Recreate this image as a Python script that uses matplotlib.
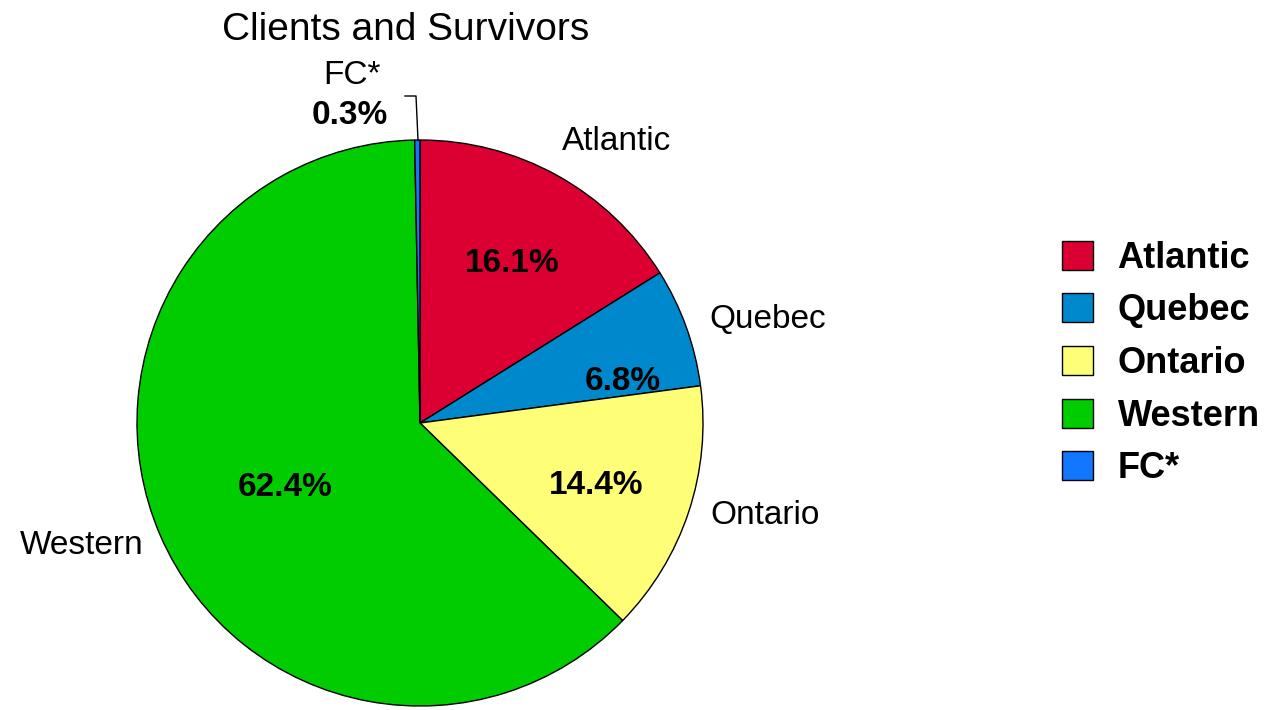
import matplotlib.pyplot as plt

# Data
regions = ["Atlantic", "Quebec", "Ontario", "Western", "FC*"]
shares = [16.1, 6.8, 14.4, 62.4, 0.3]
colours = ["#DC0032", "#0088CC", "#FFFF77", "#00CC00", "#1177FF"]
pct_labels = ["16.1%", "6.8%", "14.4%", "62.4%", "0.3%"]

plt.rcParams['font.family'] = ['Liberation Sans', 'DejaVu Sans']

fig = plt.figure(figsize=(12.86, 7.10), dpi=100)
ax = fig.add_axes([0, 0, 1, 1])

# pie in pixel coords (y up)
cx, cy, r = 420, 287, 283
wedges, _ = ax.pie(shares, colors=colours, startangle=90, counterclock=False,
                   center=(cx, cy), radius=r, frame=True,
                   wedgeprops=dict(edgecolor="black", linewidth=1))
ax.set_xlim(0, 1286)
ax.set_ylim(0, 710)
ax.set_aspect('equal')
ax.axis('off')

# outside names
name_pos = [(617, 569), (768, 390), (765, 194), (82, 164), (352, 635)]
for name, (x, y) in zip(regions, name_pos):
    ax.text(x, y, name, ha='center', va='center', fontsize=24)

# percentages
pct_pos = [(512, 446), (623, 329), (596, 224), (285, 222), (350, 595)]
for lab, (x, y) in zip(pct_labels, pct_pos):
    ax.text(x, y, lab, ha='center', va='center', fontsize=24, fontweight='bold')

# leader line for FC*
ax.plot([405, 416, 418], [614, 614, 570], color='black', linewidth=1)

ax.text(406, 680, "Clients and Survivors", ha='center', va='center', fontsize=28)

leg = ax.legend(wedges, regions, loc='center left', bbox_to_anchor=(1029 / 1286, 0.488),
                frameon=False, handlelength=0.86, handleheight=0.86, handletextpad=0.69,
                labelspacing=0.49, prop=dict(size=26, weight='bold'))
for h in leg.legend_handles:
    h.set_edgecolor('black')

fig.savefig("out.png", dpi=100)
